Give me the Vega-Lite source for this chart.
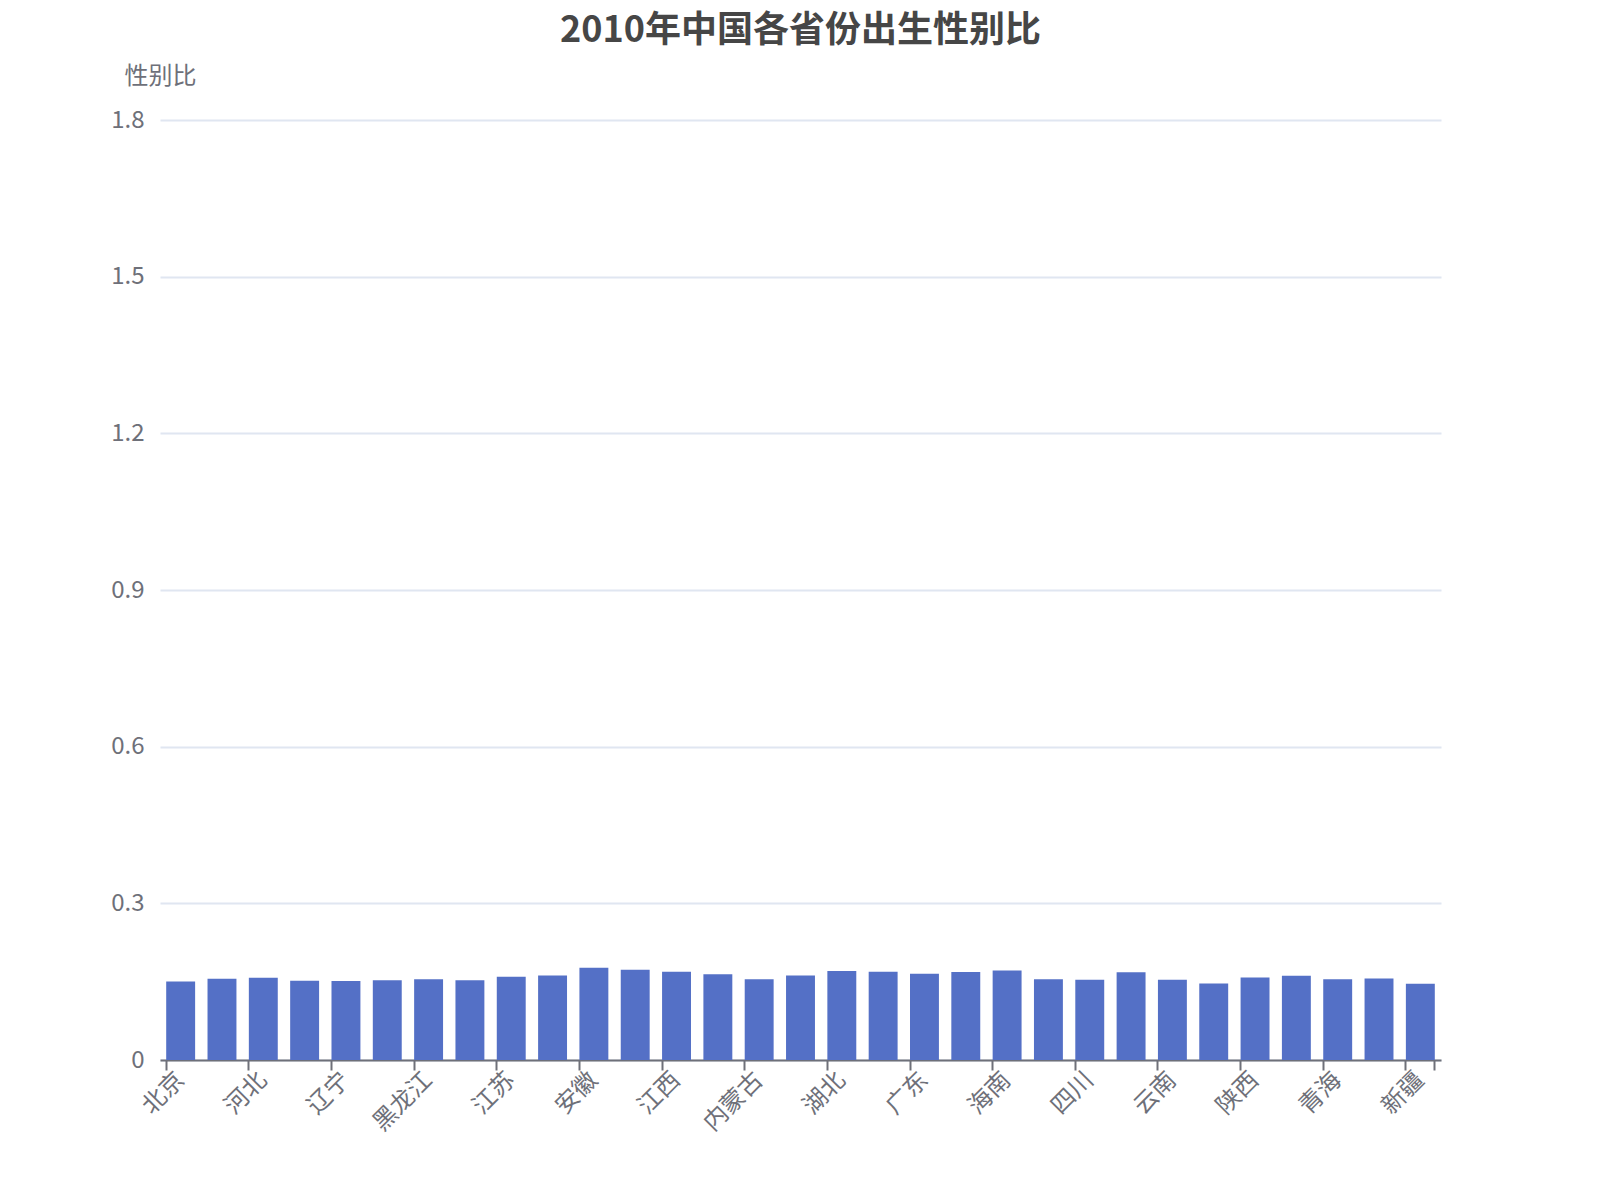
{
  "$schema": "https://vega.github.io/schema/vega-lite/v6.json",
  "description": "2010年中国各省份出生性别比",
  "autosize": {"type": "none"},
  "padding": {"left": 160, "top": 120, "right": 159, "bottom": 140},
  "width": 1281,
  "height": 940,
  "title": {
    "text": "2010年中国各省份出生性别比",
    "anchor": "middle",
    "fontSize": 36,
    "fontWeight": "bold",
    "color": "#464646",
    "font": "Noto Sans CJK SC",
    "offset": 14
  },
  "data": {
    "values": [
      {"province": "北京", "ratio": 0.1505},
      {"province": "天津", "ratio": 0.1557},
      {"province": "河北", "ratio": 0.1576},
      {"province": "山西", "ratio": 0.1518},
      {"province": "辽宁", "ratio": 0.1512},
      {"province": "吉林", "ratio": 0.1525},
      {"province": "黑龙江", "ratio": 0.1544},
      {"province": "上海", "ratio": 0.1525},
      {"province": "江苏", "ratio": 0.1595},
      {"province": "浙江", "ratio": 0.162},
      {"province": "安徽", "ratio": 0.1767},
      {"province": "福建", "ratio": 0.173},
      {"province": "江西", "ratio": 0.169},
      {"province": "山东", "ratio": 0.164},
      {"province": "内蒙古", "ratio": 0.1544},
      {"province": "河南", "ratio": 0.162},
      {"province": "湖北", "ratio": 0.1704},
      {"province": "湖南", "ratio": 0.169},
      {"province": "广东", "ratio": 0.165},
      {"province": "广西", "ratio": 0.1685},
      {"province": "海南", "ratio": 0.1716},
      {"province": "重庆", "ratio": 0.1544},
      {"province": "四川", "ratio": 0.1538},
      {"province": "贵州", "ratio": 0.1678},
      {"province": "云南", "ratio": 0.1538},
      {"province": "西藏", "ratio": 0.1467},
      {"province": "陕西", "ratio": 0.1582},
      {"province": "甘肃", "ratio": 0.1614},
      {"province": "青海", "ratio": 0.1544},
      {"province": "宁夏", "ratio": 0.1563},
      {"province": "新疆", "ratio": 0.1461}
    ]
  },
  "layer": [
    {
      "mark": {"type": "bar", "color": "#5470C6"},
      "encoding": {
        "x": {
          "field": "province",
          "type": "nominal",
          "sort": null,
          "scale": {"paddingInner": 0.3, "paddingOuter": 0.15},
          "axis": {
            "title": null,
            "orient": "bottom",
            "values": ["北京", "河北", "辽宁", "黑龙江", "江苏", "安徽", "江西", "内蒙古", "湖北", "广东", "海南", "四川", "云南", "陕西", "青海", "新疆"],
            "bandPosition": 0,
            "labelAngle": -45,
            "labelAlign": "right",
            "labelBaseline": "middle",
            "labelPadding": 6,
            "tickSize": 10,
            "tickWidth": 2,
            "tickColor": "#6E7079",
            "domainColor": "#6E7079",
            "domainWidth": 2,
            "grid": false
          }
        },
        "y": {
          "field": "ratio",
          "type": "quantitative",
          "scale": {"domain": [0, 1.8], "nice": false},
          "axis": {
            "title": "性别比",
            "titleAngle": 0,
            "titleX": 0,
            "titleY": -44,
            "titleAlign": "center",
            "titleBaseline": "middle",
            "titleFontSize": 24,
            "titleFontWeight": "normal",
            "titleColor": "#6E7079",
            "values": [0, 0.3, 0.6, 0.9, 1.2, 1.5, 1.8],
            "format": ".1~f",
            "domain": false,
            "ticks": false,
            "tickSize": 0,
            "labelPadding": 16,
            "gridColor": "#E0E6F1",
            "gridWidth": 2
          }
        }
      }
    },
    {
      "mark": {"type": "bar", "opacity": 0},
      "encoding": {
        "x": {
          "field": "province",
          "type": "nominal",
          "sort": null,
          "axis": {
            "title": null,
            "orient": "bottom",
            "values": ["新疆"],
            "bandPosition": 1,
            "labels": false,
            "domain": false,
            "grid": false,
            "tickSize": 10,
            "tickWidth": 2,
            "tickColor": "#6E7079"
          }
        },
        "y": {"field": "ratio", "type": "quantitative"}
      }
    }
  ],
  "resolve": {"axis": {"x": "independent"}},
  "config": {
    "font": "Noto Sans CJK SC",
    "view": {"stroke": null},
    "axis": {
      "labelFont": "Noto Sans CJK SC",
      "labelFontSize": 24,
      "labelColor": "#6E7079",
      "titleFont": "Noto Sans CJK SC"
    }
  }
}
